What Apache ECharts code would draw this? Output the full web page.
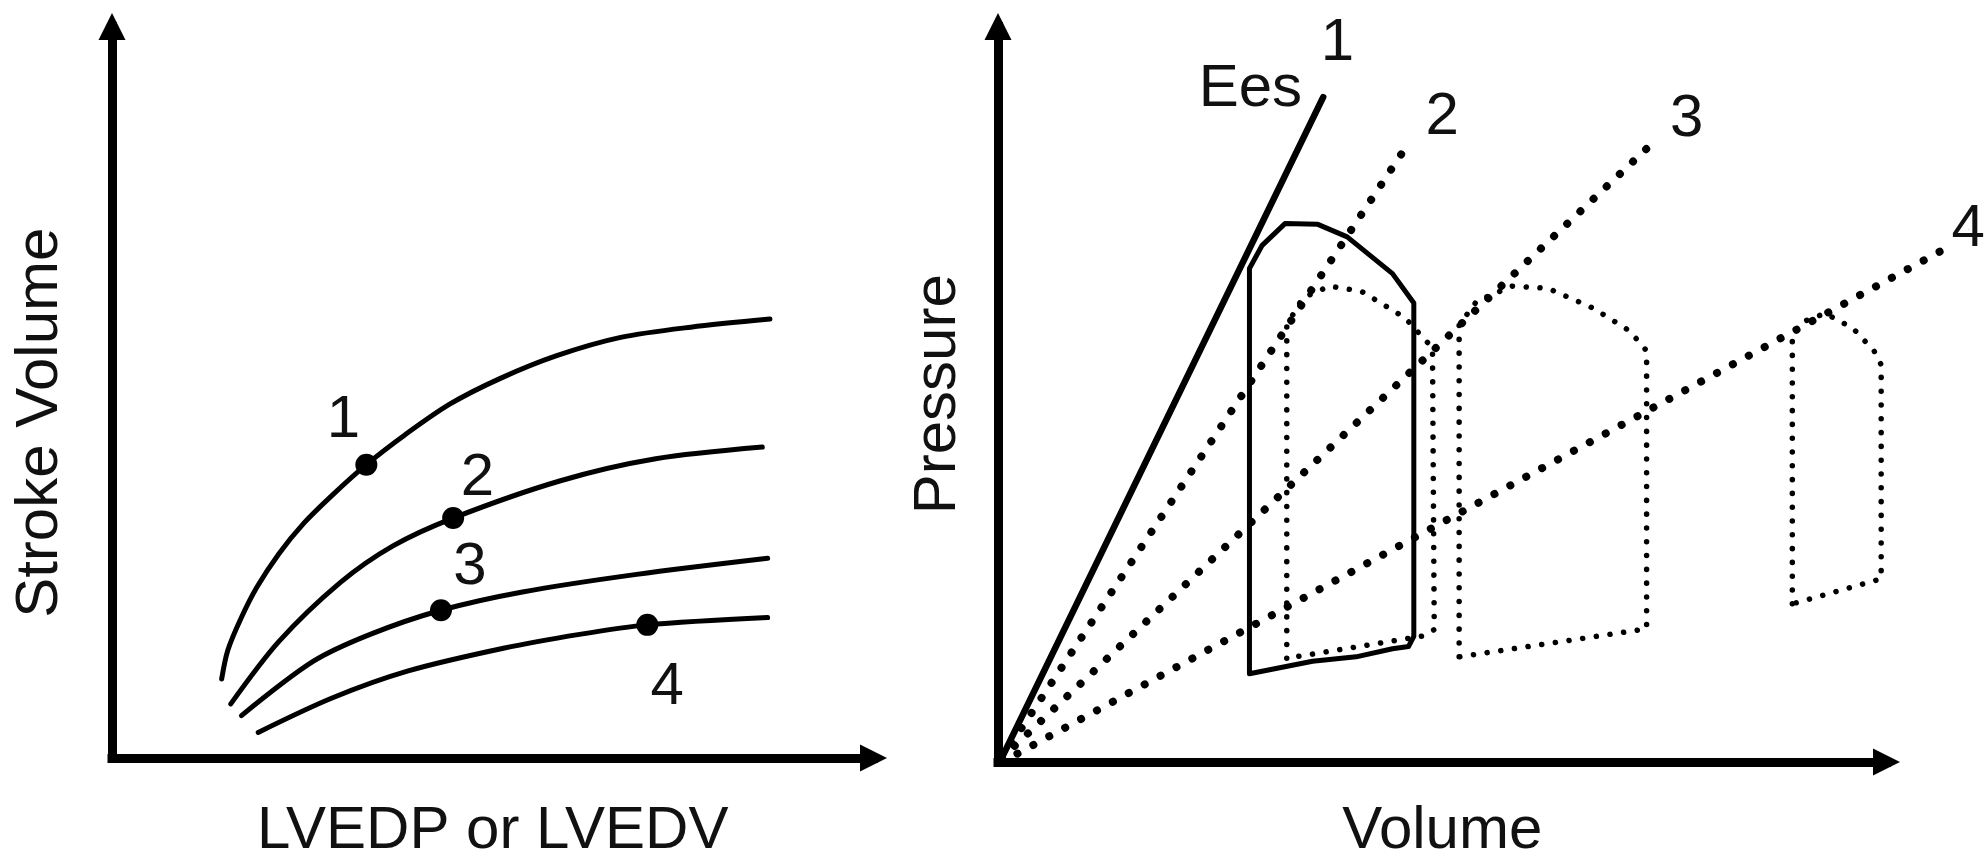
<!DOCTYPE html>
<html><head><meta charset="utf-8">
<script src="https://cdn.jsdelivr.net/npm/echarts@6/dist/echarts.min.js"></script>
<style>html,body{margin:0;padding:0;background:#fff}#c{width:1987px;height:866px}</style>
</head><body><div id="c"></div>
<script>
// ---- Left panel: Frank-Starling curves (arbitrary units 0-100) ----
const curve1 = [[14.4,10.8],[15.2,14.7],[16.9,19.0],[19.0,23.3],[21.9,27.9],[25.2,32.1],[28.9,35.9],[33.4,40.1],[38.5,44.2],[44.4,48.4],[51.0,51.9],[58.4,55.0],[66.8,57.5],[76.0,58.9],[86.4,60.0]];
const curve2 = [[15.6,7.4],[21.9,15.9],[30.0,24.0],[36.9,29.0],[44.8,32.8],[58.9,37.9],[71.4,40.9],[85.4,42.5]];
const curve3 = [[17.0,5.8],[26.4,13.2],[33.9,16.9],[43.2,20.2],[53.9,22.7],[68.9,25.1],[86.1,27.3]];
const curve4 = [[19.2,3.5],[28.9,8.2],[38.9,11.9],[51.4,15.0],[61.4,16.9],[70.3,18.2],[86.1,19.2]];
const operatingPoints = [[33.4,40.1],[44.8,32.8],[43.2,20.2],[70.3,18.2]];
const leftLabelNames = ['1','2','3','4'];
const leftLabelPos = [[30.4,46.2],[48.0,38.2],[47.0,26.0],[72.9,9.7]];

// ---- Right panel: pressure-volume loops (arbitrary units 0-100) ----
const ees1 = [[0.4,0.5],[36.6,90.4]];
const espvr2 = [[0.4,0.5],[46.3,84.3]];
const espvr3 = [[0.4,0.5],[73.8,84.3]];
const espvr4 = [[0.4,0.5],[107.3,70.4]];
const loop1 = [[28.3,12.0],[28.3,67.1],[29.7,70.2],[32.3,73.2],[36.0,73.1],[39.3,71.4],[44.4,66.4],[46.8,62.4],[46.8,17.1],[46.2,15.7],[44.4,15.4],[40.3,14.3],[35.4,13.7],[28.3,12.0]];
const loop2 = [[32.5,14.1],[32.5,59.4],[34.3,63.1],[37.3,64.7],[40.9,64.0],[45.8,60.4],[48.9,56.3],[49.1,18.0],[47.7,17.1],[32.5,14.1]];
const loop3 = [[51.9,14.3],[51.9,59.4],[53.9,62.7],[57.9,64.7],[61.9,64.4],[67.0,61.7],[71.1,58.6],[73.0,55.9],[73.0,18.1],[51.9,14.3]];
const loop4 = [[89.4,21.5],[89.4,58.1],[90.7,59.9],[93.1,61.0],[96.2,59.0],[98.6,55.9],[99.4,54.0],[99.4,24.9],[89.4,21.5]];
const rightLabelNames = ['1','2','3','4','Ees'];
const rightLabelPos = [[38.2,97.7],[50.0,87.7],[77.5,87.4],[109.2,72.4],[28.4,91.5]];

const axisTitles = { leftX: 'LVEDP or LVEDV', leftY: 'Stroke Volume', rightX: 'Volume', rightY: 'Pressure' };

const FONT = '"Liberation Sans", Arial, Helvetica, sans-serif';
const INK = '#000';

function axis(name, gap, extra) {
  return Object.assign({
    type: 'value', min: 0, max: 100, name: name, nameLocation: 'middle', nameGap: gap,
    nameTextStyle: { fontFamily: FONT, fontSize: 60, color: '#111' },
    axisLine: { show: true, symbol: ['none', 'triangle'], symbolSize: [27, 27],
      lineStyle: { color: INK, width: 9, cap: 'square' } },
    axisTick: { show: false }, axisLabel: { show: false }, splitLine: { show: false }
  }, extra || {});
}
function hiddenAxis(max, gi) {
  return { type: 'value', min: 0, max: max, gridIndex: gi, show: false,
    axisLine: { show: false }, axisTick: { show: false }, axisLabel: { show: false }, splitLine: { show: false } };
}

function solid(data, xi, w, smooth) {
  return { type: 'line', xAxisIndex: xi, yAxisIndex: xi, data: data, showSymbol: false, symbol: 'none',
    smooth: smooth || false, clip: false, silent: true,
    lineStyle: { color: INK, width: w, cap: 'round', join: 'round', opacity: 1 } };
}
function dotted(data, xi, w, gap) {
  return { type: 'line', xAxisIndex: xi, yAxisIndex: xi, data: data, showSymbol: false, symbol: 'none',
    clip: false, silent: true,
    lineStyle: { color: INK, width: w, type: [0.1, gap], cap: 'round', join: 'round', opacity: 1 } };
}
function labels(names, pos, xi) {
  return { type: 'scatter', xAxisIndex: xi, yAxisIndex: xi, symbolSize: 0.5, clip: false, silent: true,
    itemStyle: { color: '#000', opacity: 1 },
    data: names.map((n, i) => ({ name: n, value: pos[i] })),
    label: { show: true, position: 'inside', formatter: '{b}', fontFamily: FONT, fontSize: 60,
      color: '#111', opacity: 1, textBorderWidth: 0 } };
}

const chart = echarts.init(document.getElementById('c'), null, { renderer: 'canvas' });
chart.setOption({
  animation: false,
  backgroundColor: '#fff',
  grid: [
    { left: 112, right: 1113.5, top: 26.5, bottom: 98 },
    { left: 998, right: 100.5, top: 26.5, bottom: 100 },
    { left: 998, right: 11.65, top: 26.5, bottom: 100 }
  ],
  xAxis: [
    axis(axisTitles.leftX, 43, { gridIndex: 0 }),
    axis(axisTitles.rightX, 39, { gridIndex: 1 }),
    hiddenAxis(110, 2)
  ],
  yAxis: [
    axis(axisTitles.leftY, 42, { gridIndex: 0, nameTextStyle: { fontFamily: FONT, fontSize: 60, color: '#111', padding: [0, 61, 0, 0] } }),
    axis(axisTitles.rightY, 30, { gridIndex: 1 }),
    hiddenAxis(100, 2)
  ],
  series: [
    solid(curve1, 0, 5, 0.3),
    solid(curve2, 0, 5, 0.3),
    solid(curve3, 0, 5, 0.3),
    solid(curve4, 0, 5, 0.3),
    { type: 'scatter', xAxisIndex: 0, yAxisIndex: 0, data: operatingPoints, symbolSize: 22, silent: true,
      itemStyle: { color: INK, opacity: 1 } },
    labels(leftLabelNames, leftLabelPos, 0),
    solid(ees1, 1, 6.5),
    dotted(espvr2, 1, 8, 18),
    dotted(espvr3, 1, 8, 18),
    dotted(espvr4, 2, 8, 18),
    solid(loop1, 1, 5),
    dotted(loop2, 1, 5.5, 13.7),
    dotted(loop3, 1, 5.5, 13.7),
    dotted(loop4, 1, 5.5, 13.7),
    labels(rightLabelNames, rightLabelPos, 1)
  ]
});
</script></body></html>
